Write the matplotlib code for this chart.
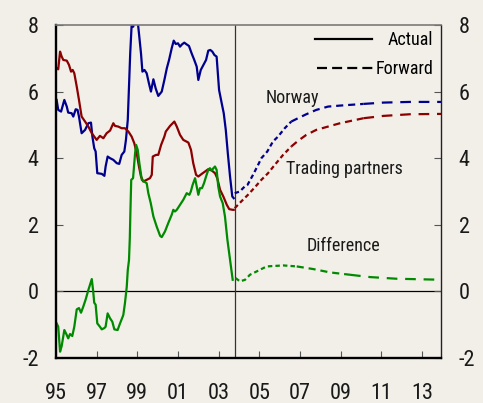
import numpy as np
import matplotlib
matplotlib.use("Agg")
import matplotlib.pyplot as plt
from matplotlib.lines import Line2D
from matplotlib import font_manager as fm

plt.rcParams['axes.unicode_minus'] = False

# choose a narrow sans font if one is installed
_fonts = fm.fontManager.ttflist
_names = {f.name for f in _fonts}
FONT_KW = {}
for cand in ['Liberation Sans Narrow', 'Arial Narrow', 'Roboto Condensed', 'Open Sans Condensed']:
    if cand in _names:
        FONT_KW = {'family': cand}
        break
else:
    if any(f.name == 'DejaVu Sans' and f.stretch == 'condensed' for f in _fonts):
        FONT_KW = {'family': 'DejaVu Sans', 'stretch': 'condensed'}
    else:
        FONT_KW = {'family': 'Liberation Sans'}
plt.rcParams['font.family'] = [FONT_KW['family'], 'DejaVu Sans']
if 'stretch' in FONT_KW:
    plt.rcParams['font.stretch'] = FONT_KW['stretch']

BASE = 1995.0
# ---- actual series (offset years from 1995, value in %) ----
norway_t = [0.03, 0.11, 0.25, 0.41, 0.53, 0.60, 0.77, 0.85, 0.97, 1.06, 1.13, 1.26, 1.43, 1.59, 1.72,
            1.79, 1.88, 1.95, 2.03, 2.25, 2.38, 2.44, 2.54, 2.66, 2.82, 2.99, 3.11, 3.23, 3.36, 3.44,
            3.53, 3.59, 3.65, 3.72, 3.80, 3.89, 3.94, 4.02, 4.08, 4.18, 4.25, 4.35, 4.46, 4.57, 4.67,
            4.79, 4.90, 5.03, 5.20, 5.33, 5.45, 5.56, 5.69, 5.79, 5.89, 6.00, 6.10, 6.20, 6.31, 6.42,
            6.54, 6.67, 6.80, 6.92, 7.00, 7.12, 7.25, 7.38, 7.49, 7.59, 7.69, 7.79, 7.90, 8.02, 8.15,
            8.25, 8.35, 8.45, 8.56, 8.67, 8.74]
norway_v = [5.75, 5.45, 5.40, 5.75, 5.55, 5.37, 5.35, 5.25, 5.47, 5.45, 5.25, 4.75, 4.85, 5.05, 5.07,
            4.65, 4.30, 4.20, 3.55, 3.53, 3.47, 3.75, 4.05, 4.00, 3.95, 3.85, 3.83, 4.10, 4.20, 4.55,
            5.15, 6.15, 7.15, 8.00, 7.95, 8.30, 8.40, 8.10, 7.75, 7.15, 6.60, 6.65, 6.55, 6.25, 6.00,
            6.37, 6.10, 5.87, 6.00, 6.35, 6.70, 6.95, 7.30, 7.53, 7.43, 7.45, 7.35, 7.42, 7.47, 7.42,
            7.37, 7.15, 6.95, 6.75, 6.35, 6.65, 6.80, 6.95, 7.23, 7.25, 7.20, 7.10, 7.05, 6.05, 5.65,
            5.35, 4.85, 4.15, 3.45, 2.85, 2.80]

partners_t = [0.03, 0.11, 0.20, 0.28, 0.36, 0.53, 0.64, 0.74, 0.82, 0.90, 1.02, 1.13, 1.26, 1.43, 1.59,
              1.76, 1.88, 2.00, 2.16, 2.33, 2.49, 2.66, 2.82, 2.90, 3.06, 3.23, 3.39, 3.56, 3.72, 3.85,
              3.97, 4.08, 4.18, 4.29, 4.46, 4.62, 4.71, 4.76, 4.92, 5.03, 5.17, 5.33, 5.40, 5.61, 5.82,
              5.94, 6.10, 6.26, 6.51, 6.64, 6.75, 6.89, 7.00, 7.17, 7.33, 7.49, 7.66, 7.82, 7.93, 8.07,
              8.23, 8.40, 8.52, 8.69, 8.74]
partners_v = [6.70, 6.67, 7.20, 7.05, 6.95, 6.93, 6.80, 6.60, 6.65, 6.55, 6.15, 5.75, 5.25, 5.10, 4.95,
              4.75, 4.65, 4.55, 4.67, 4.60, 4.75, 4.83, 5.05, 4.97, 4.95, 4.90, 4.90, 4.80, 4.65, 4.45,
              4.15, 3.75, 3.45, 3.30, 3.35, 3.40, 3.50, 4.05, 4.10, 4.10, 4.40, 4.65, 4.80, 4.97, 5.10,
              4.95, 4.70, 4.55, 4.47, 4.25, 3.85, 3.50, 3.45, 3.53, 3.60, 3.67, 3.63, 3.55, 3.40, 3.05,
              2.85, 2.60, 2.47, 2.45, 2.45]

diff_t = [0.03, 0.11, 0.20, 0.28, 0.41, 0.53, 0.60, 0.69, 0.80, 0.90, 1.02, 1.13, 1.23, 1.34, 1.46,
          1.59, 1.76, 1.83, 1.88, 1.95, 2.03, 2.16, 2.25, 2.38, 2.44, 2.54, 2.66, 2.77, 2.87, 3.03,
          3.15, 3.31, 3.39, 3.48, 3.53, 3.59, 3.63, 3.66, 3.70, 3.79, 3.89, 3.94, 4.02, 4.10, 4.22,
          4.33, 4.46, 4.54, 4.66, 4.79, 4.95, 5.12, 5.20, 5.36, 5.52, 5.69, 5.77, 5.85, 5.94, 6.10,
          6.26, 6.43, 6.56, 6.63, 6.72, 6.84, 6.92, 7.00, 7.08, 7.18, 7.28, 7.38, 7.49, 7.57, 7.66,
          7.74, 7.82, 7.90, 7.98, 8.07, 8.20, 8.31, 8.43, 8.56, 8.69]
diff_v = [-0.96, -1.06, -1.81, -1.64, -1.16, -1.31, -1.41, -1.28, -1.34, -1.06, -0.54, -0.50, -0.64, -0.46, -0.24,
          0.04, 0.37, 0.00, -0.34, -0.40, -0.96, -1.06, -1.14, -1.10, -1.06, -0.66, -0.81, -0.91, -1.14, -1.16,
          -0.96, -0.71, -0.36, 0.14, 0.64, 0.94, 1.60, 2.40, 3.35, 3.40, 4.15, 4.40, 4.25, 3.85, 3.35,
          3.30, 3.25, 2.95, 2.65, 2.25, 1.95, 1.67, 1.63, 1.80, 2.05, 2.30, 2.45, 2.40, 2.45, 2.60,
          2.75, 2.95, 2.90, 3.00, 3.20, 3.40, 3.15, 2.90, 3.10, 3.10, 3.25, 3.45, 3.65, 3.70, 3.63,
          3.70, 3.75, 3.65, 3.15, 2.85, 2.65, 2.25, 1.55, 0.95, 0.35]

# ---- forward curves ----
norway_fwd_t = [8.79, 9.04, 9.28, 9.42, 9.69, 9.94, 10.10, 10.39, 10.67, 10.92, 11.25, 11.57, 11.90,
                12.31, 12.80, 13.38, 13.97, 15.12, 16.10, 17.41, 18.95]
norway_fwd_v = [2.95, 3.00, 3.15, 3.20, 3.50, 3.80, 4.00, 4.20, 4.50, 4.65, 4.90, 5.10, 5.20,
                5.32, 5.45, 5.55, 5.58, 5.63, 5.67, 5.69, 5.69]
partners_fwd_t = [8.79, 9.11, 9.44, 9.77, 10.10, 10.43, 10.76, 11.17, 11.57, 11.90, 12.31, 12.80,
                  13.38, 13.97, 15.12, 16.10, 17.41, 18.95]
partners_fwd_v = [2.50, 2.70, 2.90, 3.12, 3.35, 3.55, 3.80, 4.10, 4.35, 4.52, 4.70, 4.85,
                  4.95, 5.05, 5.20, 5.27, 5.32, 5.33]
diff_fwd_t = [8.83, 9.05, 9.30, 9.54, 9.87, 10.36, 11.18, 11.84, 12.66, 13.48, 14.46, 15.45, 16.76, 18.95]
diff_fwd_v = [0.40, 0.30, 0.35, 0.50, 0.60, 0.75, 0.78, 0.75, 0.67, 0.57, 0.50, 0.43, 0.38, 0.35]

cutoff_year = 2003.8
xticks = [1995, 1997, 1999, 2001, 2003, 2005, 2007, 2009, 2011, 2013]
xticklabels = ['95', '97', '99', '01', '03', '05', '07', '09', '11', '13']
yticks = [-2, 0, 2, 4, 6, 8]

BG = '#f2efe8'
BLUE = '#00008f'
RED = '#8b0000'
GREEN = '#008a00'
LW = 1.6

fig = plt.figure(figsize=(4.83, 4.03), dpi=100, facecolor=BG)
ax = fig.add_axes([56/483, 45/403, 385.3/483, 333/403], facecolor=BG)

def yrs(t):
    return BASE + np.asarray(t)

ax.plot(yrs(norway_t), norway_v, color=BLUE, lw=LW, solid_joinstyle='round')
ax.plot(yrs(partners_t), partners_v, color=RED, lw=LW, solid_joinstyle='round')
ax.plot(yrs(diff_t), diff_v, color=GREEN, lw=LW, solid_joinstyle='round')

def dashed(t, v, color):
    x = yrs(t)
    y = np.asarray(v)
    breaks = [2006.6, 2009.6]
    styles = [(2.0, 1.4), (3.2, 2.2), (4.8, 3.5)]
    def grp(i):
        mid = 0.5 * (x[i] + x[i + 1])
        return sum(mid > b for b in breaks)
    start = 0
    cur = grp(0)
    for i in range(1, len(x) - 1):
        g = grp(i)
        if g != cur:
            ax.plot(x[start:i + 1], y[start:i + 1], color=color, lw=LW, dashes=styles[cur])
            start, cur = i, g
    ax.plot(x[start:], y[start:], color=color, lw=LW, dashes=styles[cur])

dashed(norway_fwd_t, norway_fwd_v, BLUE)
dashed(partners_fwd_t, partners_fwd_v, RED)
dashed(diff_fwd_t, diff_fwd_v, GREEN)

ax.axhline(0, color='black', lw=0.9, zorder=1)
ax.axvline(cutoff_year, color='#333333', lw=0.9, zorder=1)

ax.set_xlim(1995, 2013.95)
ax.set_ylim(-2, 8)
ax.set_xticks(xticks)
ax.set_xticklabels(xticklabels)
ax.set_yticks(yticks)
ax.set_yticklabels([str(v) for v in yticks])

ax.tick_params(axis='both', direction='in', length=5, width=0.8, color='#555555',
               labelsize=16, labelcolor='#1a1a1a')
ax.tick_params(axis='x', pad=18.0)
ax.tick_params(axis='y', pad=12.5, right=True, labelright=True)

for side in ['left', 'bottom']:
    ax.spines[side].set_linewidth(1.7)
    ax.spines[side].set_color('black')
ax.spines['top'].set_linewidth(1.2)
ax.spines['top'].set_color('#7a7a7a')
ax.spines['right'].set_linewidth(1.0)
ax.spines['right'].set_color('#222222')

# annotations
ax.text(2006.64, 5.8, 'Norway', fontsize=13, ha='center', va='center', color='#1a1a1a')
ax.text(2009.18, 3.67, 'Trading partners', fontsize=13, ha='center', va='center', color='#1a1a1a')
ax.text(2009.15, 1.35, 'Difference', fontsize=13, ha='center', va='center', color='#1a1a1a')

# legend (two single-entry legends so texts line up on the right)
h_act = Line2D([], [], color='black', lw=LW)
h_fwd = Line2D([], [], color='black', lw=LW, dashes=(4.5, 2.3))
leg1 = ax.legend([h_act], ['Actual'], loc='center right', bbox_to_anchor=(0.979, 0.955),
                 frameon=False, fontsize=13, handlelength=3.2, handletextpad=0.85,
                 borderpad=0, borderaxespad=0)
ax.add_artist(leg1)
ax.legend([h_fwd], ['Forward'], loc='center right', bbox_to_anchor=(0.979, 0.868),
          frameon=False, fontsize=13, handlelength=3.2, handletextpad=0.05,
          borderpad=0, borderaxespad=0)

fig.savefig('out.png', dpi=100, facecolor=BG)
